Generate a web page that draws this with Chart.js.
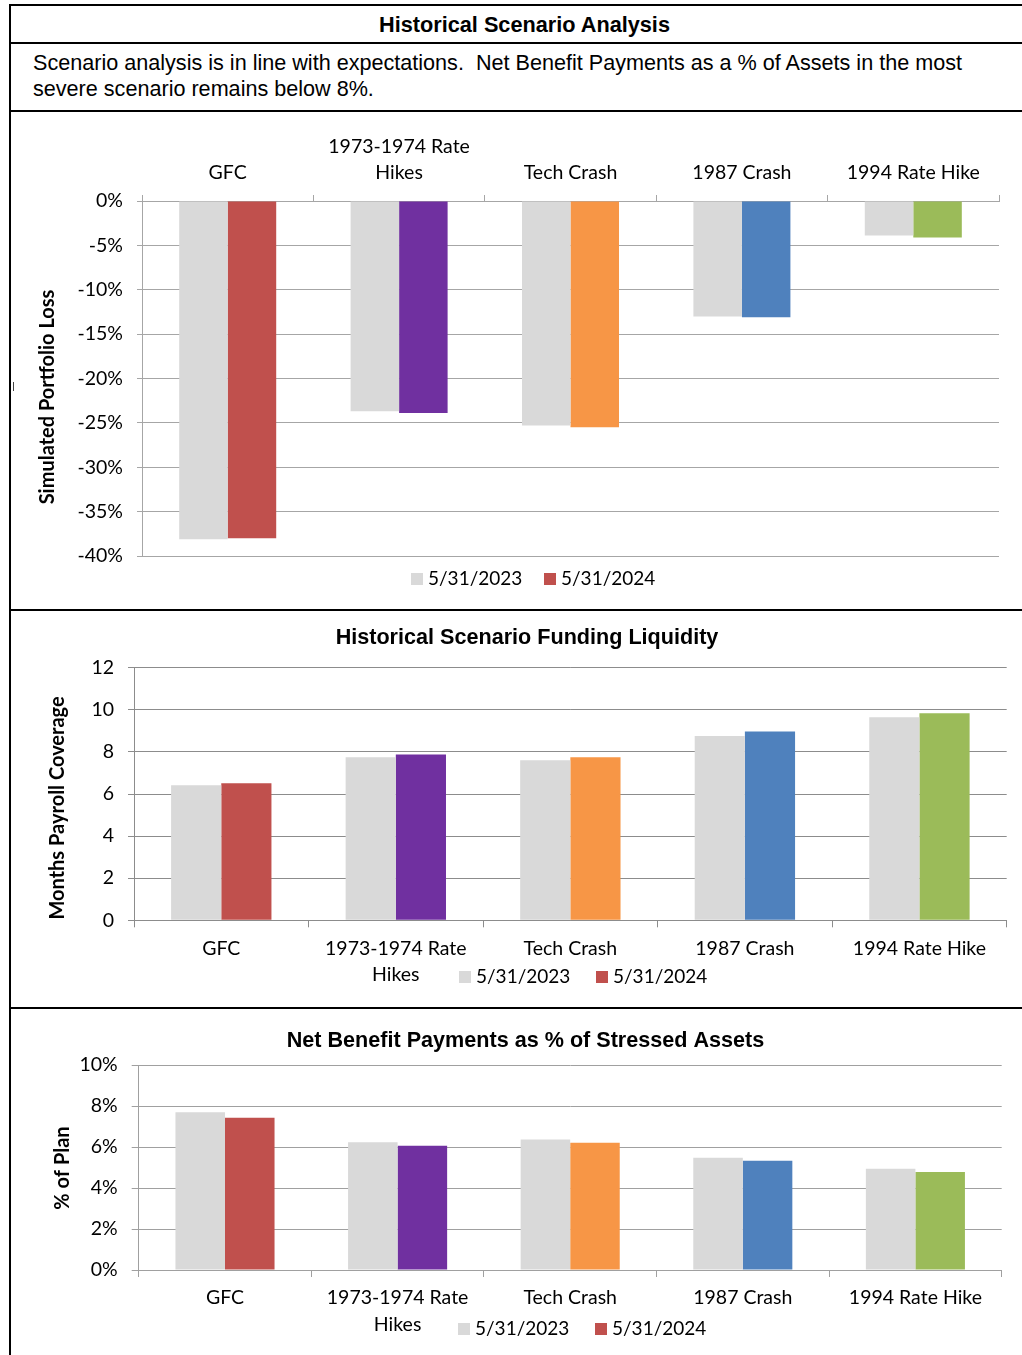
<!DOCTYPE html>
<html>
<head>
<meta charset="utf-8">
<title>Historical Scenario Analysis</title>
<script src="https://cdn.jsdelivr.net/npm/chart.js@4.4.1/dist/chart.umd.min.js"></script>
<style>
  html, body { margin: 0; padding: 0; background: #fff; }
  body { width: 1022px; height: 1355px; position: relative; overflow: hidden;
         font-family: "Liberation Sans", Arial, sans-serif; color: #000; }
  .rule { position: absolute; background: #000; }
  .hdr { position: absolute; left: 27px; right: 0; top: 6px; height: 37px; line-height: 37px;
         text-align: center; font-weight: bold; font-size: 21.7px; }
  .note { position: absolute; left: 33px; top: 50px; font-size: 21.6px; line-height: 26px; }
  canvas { position: absolute; left: 12px; }
</style>
</head>
<body>
<div class="rule" style="left:9px;top:4px;width:2px;height:1351px"></div>
<div class="rule" style="left:9px;top:4px;width:1013px;height:2px"></div>
<div class="rule" style="left:9px;top:42px;width:1013px;height:2px"></div>
<div class="rule" style="left:9px;top:110px;width:1013px;height:2px"></div>
<div class="rule" style="left:9px;top:609px;width:1013px;height:2px"></div>
<div class="rule" style="left:9px;top:1007px;width:1013px;height:2px"></div>
<div class="rule" style="left:13px;top:382px;width:1px;height:9px;background:#444"></div>

<div class="hdr">Historical Scenario Analysis</div>
<div class="note">Scenario analysis is in line with expectations.&nbsp; Net Benefit Payments as a % of Assets in the most<br>severe scenario remains below 8%.</div>

<canvas id="lossChart" width="1010" height="497" style="top:112px"></canvas>
<canvas id="liquidityChart" width="1010" height="395" style="top:612px"></canvas>
<canvas id="benefitChart" width="1010" height="345" style="top:1010px"></canvas>

<script>
// Scenario names (multi-line where the label wraps)
const categories = ['GFC', ['1973-1974 Rate', 'Hikes'], 'Tech Crash', '1987 Crash', '1994 Rate Hike'];
const seriesLabels = ['5/31/2023', '5/31/2024'];

// Simulated portfolio loss, %
const lossPrior   = [-38.1, -23.7, -25.3, -13.0, -3.9];
const lossCurrent = [-38.0, -23.9, -25.5, -13.1, -4.1];

// Months of payroll coverage
const payrollPrior   = [6.42, 7.75, 7.60, 8.75, 9.65];
const payrollCurrent = [6.51, 7.88, 7.75, 8.97, 9.84];

// Net benefit payments as % of stressed assets
const benefitPrior   = [7.69, 6.23, 6.37, 5.48, 4.94];
const benefitCurrent = [7.43, 6.06, 6.21, 5.33, 4.78];

const priorColor = '#D9D9D9';
const scenarioColors = ['#C0504D', '#7030A0', '#F79646', '#4F81BD', '#9BBB59'];

const LABEL_FONT = { family: 'Lato, "Open Sans", sans-serif', size: 19.5, lineHeight: 1.35 };

// Titles, rotated axis titles and the legend row drawn on each panel
const panelDecor = {
  id: 'panelDecor',
  afterDraw(chart, args, opts) {
    const ctx = chart.ctx;
    ctx.save();
    ctx.fillStyle = '#000';
    if (opts.title) {
      ctx.font = 'bold 21.6px "Liberation Sans", Arial, sans-serif';
      ctx.textAlign = 'center';
      ctx.textBaseline = 'middle';
      ctx.fillText(opts.title.text, opts.title.x, opts.title.y);
    }
    if (opts.yTitle) {
      ctx.save();
      ctx.translate(opts.yTitle.x, opts.yTitle.y);
      ctx.rotate(-Math.PI / 2);
      ctx.font = 'bold 20px Lato, sans-serif';
      ctx.textAlign = 'center';
      ctx.textBaseline = 'middle';
      ctx.fillText(opts.yTitle.text, 0, 0);
      ctx.restore();
    }
    if (opts.legend) {
      const y = opts.legend.y;
      chart.data.datasets.forEach((ds, i) => {
        const x = opts.legend.xs[i];
        ctx.fillStyle = Array.isArray(ds.backgroundColor) ? ds.backgroundColor[0] : ds.backgroundColor;
        ctx.fillRect(x, y - 6, 12, 12);
        ctx.fillStyle = '#000';
        ctx.font = '19px Lato, sans-serif';
        ctx.textAlign = 'left';
        ctx.textBaseline = 'middle';
        ctx.fillText(ds.label, x + 17, y);
      });
    }
    ctx.restore();
  }
};

function buildChart(canvasId, p) {
  return new Chart(document.getElementById(canvasId), {
    type: 'bar',
    data: {
      labels: categories,
      datasets: [
        { label: seriesLabels[0], data: p.prior, backgroundColor: priorColor },
        { label: seriesLabels[1], data: p.current, backgroundColor: scenarioColors }
      ]
    },
    options: {
      responsive: false,
      animation: false,
      devicePixelRatio: 1,
      layout: { padding: p.padding },
      datasets: { bar: { barPercentage: 1, categoryPercentage: p.catPct, borderWidth: 0 } },
      plugins: {
        legend: { display: false },
        tooltip: { enabled: false },
        panelDecor: p.decor
      },
      scales: {
        x: {
          position: p.xPosition,
          offset: true,
          afterFit: s => { s.height = p.xHeight; },
          grid: { offset: true, drawOnChartArea: false, drawTicks: true, tickLength: p.xTick, color: p.gridColor },
          border: { display: true, color: p.gridColor, width: 1 },
          ticks: { font: LABEL_FONT, color: '#000', padding: p.xPad, maxRotation: 0, autoSkip: false }
        },
        y: {
          min: p.min, max: p.max,
          afterFit: s => { s.width = p.yWidth; },
          grid: { color: p.gridColor, drawTicks: true, tickLength: p.yTick },
          border: { display: true, color: p.gridColor, width: 1 },
          ticks: { stepSize: p.step, font: LABEL_FONT, color: '#000', padding: p.yPad, callback: p.fmt }
        }
      }
    },
    plugins: [panelDecor]
  });
}

const pct = v => v + '%';

buildChart('lossChart', {
  prior: lossPrior, current: lossCurrent,
  min: -40, max: 0, step: 5, fmt: pct,
  xPosition: 'top', xHeight: 89, xTick: 6, xPad: 9,
  yWidth: 130, yTick: 5, yPad: 14,
  padding: { left: 0, right: 23, top: 0, bottom: 53 },
  catPct: 0.566, gridColor: '#A6A6A6',
  decor: {
    yTitle: { text: 'Simulated Portfolio Loss', x: 36, y: 285 },
    legend: { xs: [399, 532], y: 467 }
  }
});

buildChart('liquidityChart', {
  prior: payrollPrior, current: payrollCurrent,
  min: 0, max: 12, step: 2, fmt: v => v,
  xPosition: 'bottom', xHeight: 86.7, xTick: 7, xPad: 8,
  yWidth: 122, yTick: 6, yPad: 14,
  padding: { left: 0, right: 15.3, top: 55.7, bottom: 0 },
  catPct: 0.575, gridColor: '#8C8C8C',
  decor: {
    title: { text: 'Historical Scenario Funding Liquidity', x: 515, y: 26 },
    yTitle: { text: 'Months Payroll Coverage', x: 46, y: 196 },
    legend: { xs: [447, 584], y: 365 }
  }
});

buildChart('benefitChart', {
  prior: benefitPrior, current: benefitCurrent,
  min: 0, max: 10, step: 2, fmt: pct,
  xPosition: 'bottom', xHeight: 85, xTick: 7, xPad: 8,
  yWidth: 126.7, yTick: 7, yPad: 14,
  padding: { left: 0, right: 20.3, top: 55, bottom: 0 },
  catPct: 0.574, gridColor: '#A0A0A0',
  decor: {
    title: { text: 'Net Benefit Payments as % of Stressed Assets', x: 513.5, y: 31 },
    yTitle: { text: '% of Plan', x: 51, y: 158 },
    legend: { xs: [446, 583], y: 319 }
  }
});
</script>
</body>
</html>
